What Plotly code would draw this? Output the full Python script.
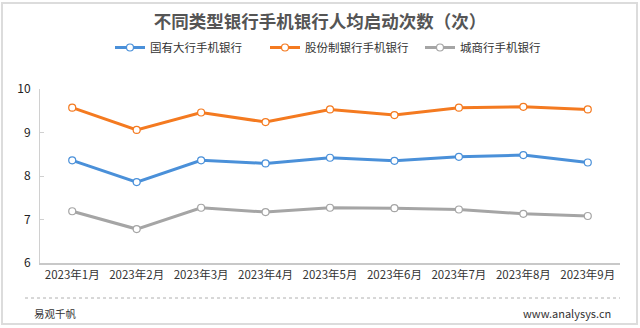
import plotly.graph_objects as go

months = ["2023年1月", "2023年2月", "2023年3月", "2023年4月", "2023年5月",
          "2023年6月", "2023年7月", "2023年8月", "2023年9月"]
big_banks = [8.36, 7.86, 8.36, 8.29, 8.42, 8.35, 8.44, 8.48, 8.31]
joint_stock = [9.57, 9.06, 9.46, 9.24, 9.53, 9.40, 9.57, 9.59, 9.53]
city_banks = [7.19, 6.78, 7.27, 7.17, 7.27, 7.26, 7.23, 7.13, 7.08]
series_names = ["国有大行手机银行", "股份制银行手机银行", "城商行手机银行"]
y_ticks = [6, 7, 8, 9, 10]

colors = ["#4a90d9", "#f47a20", "#a5a5a5"]
FONT = "Noto Sans CJK SC"

W, H = 640, 328
L, R, T, B = 40, 20, 89, 65
pw, ph = W - L - R, H - T - B

def px(x):
    return (x - L) / pw

def py(y):
    return (H - B - y) / ph

fig = go.Figure()
for name, vals, c in zip(series_names, [big_banks, joint_stock, city_banks], colors):
    fig.add_trace(go.Scatter(
        x=months, y=vals, name=name, mode="lines+markers",
        line=dict(color=c, width=3),
        marker=dict(symbol="circle", size=7, color="white", line=dict(color=c, width=1.2)),
    ))

fig.update_layout(
    width=W, height=H,
    margin=dict(l=L, r=R, t=T, b=B),
    paper_bgcolor="white", plot_bgcolor="white",
    font=dict(family=FONT, color="#333333", size=11),
    title=dict(text="<b>不同类型银行手机银行人均启动次数（次）</b>",
               xref="container", yref="container",
               x=0.5, xanchor="center", y=1 - 22 / H, yanchor="middle",
               font=dict(family=FONT, size=17.5, color="#555555")),
    legend=dict(orientation="h", x=px(110), xanchor="left", y=py(47.5), yanchor="middle",
                font=dict(family=FONT, size=11.5, color="#333333"),
                itemwidth=30, entrywidth=110, entrywidthmode="pixels",
                bgcolor="rgba(0,0,0,0)", tracegroupgap=0),
    showlegend=True,
    xaxis=dict(type="category", range=[-0.5, 8.5], showgrid=False,
               showline=True, linecolor="#c8c8c8", linewidth=2,
               ticks="", tickfont=dict(family=FONT, size=11.5, color="#333333"),
               fixedrange=True),
    yaxis=dict(range=[6, 10], tickvals=y_ticks, showgrid=False, zeroline=False,
               showline=True, linecolor="#d0d0d0", linewidth=1,
               ticks="inside", ticklen=4, tickcolor="#d0d0d0",
               tickfont=dict(family=FONT, size=12, color="#222222"),
               ticklabelstandoff=6,
               fixedrange=True),
)

# outer frame
fig.add_shape(type="rect", xref="paper", yref="paper",
              x0=px(2), x1=px(637), y0=py(324), y1=py(3),
              line=dict(color="#dcdcdc", width=2), fillcolor="rgba(0,0,0,0)", layer="below")
# dotted separator
fig.add_shape(type="line", xref="paper", yref="paper",
              x0=px(25), x1=px(620), y0=py(298), y1=py(298),
              line=dict(color="#b0b0b0", width=1, dash="dot"))
# footer
fig.add_annotation(text="易观千帆", xref="paper", yref="paper", x=px(32), y=py(313),
                   xanchor="left", yanchor="middle", showarrow=False,
                   font=dict(family=FONT, size=10.5, color="#333333"))
fig.add_annotation(text="www.analysys.cn", xref="paper", yref="paper", x=px(613), y=py(313),
                   xanchor="right", yanchor="middle", showarrow=False,
                   font=dict(family=FONT, size=11, color="#333333"))

fig.write_html("out.html")
